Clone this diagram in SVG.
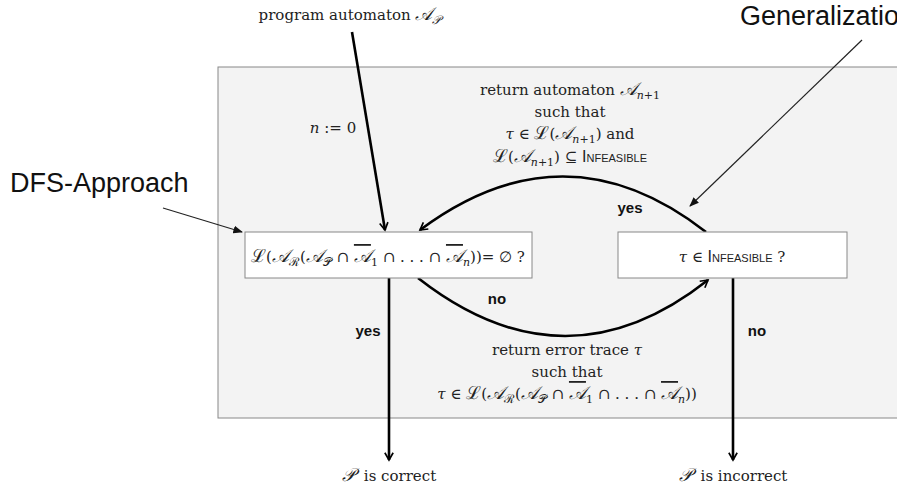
<svg xmlns="http://www.w3.org/2000/svg" width="897" height="484" viewBox="0 0 897 484">
<style>
.m{font-family:"DejaVu Serif","Liberation Serif",serif;font-size:15px;fill:#222}
.s{font-family:"Liberation Sans","DejaVu Sans",sans-serif;fill:#111}
.b{font-family:"Liberation Sans","DejaVu Sans",sans-serif;font-weight:bold;font-size:15px;fill:#111}
.box{fill:#fff;stroke:#888;stroke-width:1}
.thick{fill:none;stroke:#000;stroke-width:2.6}
.thin{fill:none;stroke:#222;stroke-width:1.2}
.sc{font-family:"Liberation Sans","DejaVu Sans",sans-serif;font-variant:small-caps;font-size:16px}
.ov{text-decoration:overline}
.i{font-style:italic}
.c{font-size:18px}
</style>
<defs>
<marker id="ah" viewBox="0 0 10 10" refX="8" refY="5" markerWidth="4" markerHeight="4" orient="auto" markerUnits="strokeWidth">
<path d="M1,1 L8,5 L1,9" fill="none" stroke="#000" stroke-width="1.6"/>
</marker>
<marker id="at" viewBox="0 0 10 10" refX="9" refY="5" markerWidth="8" markerHeight="8" orient="auto" markerUnits="strokeWidth">
<path d="M0,1 L10,5 L0,9 Z" fill="#111"/>
</marker>
</defs>
<rect x="218" y="67" width="690" height="351" fill="#f3f3f3" stroke="#888" stroke-width="1"/>
<g id="connectors">
<path class="thick" d="M352,32 L385,230" marker-end="url(#ah)"/>
<path class="thick" d="M706,232 Q565,122 420,230" marker-end="url(#ah)"/>
<path class="thick" d="M418,278 Q565,393 708,280" marker-end="url(#ah)"/>
<path class="thick" d="M389,278 L389,460" marker-end="url(#ah)"/>
<path class="thick" d="M733,278 L733,460" marker-end="url(#ah)"/>
<path class="thin" d="M163,208 L242,232" marker-end="url(#at)"/>
<path class="thin" d="M862,40 L690,206" marker-end="url(#at)"/>
<text class="b" x="630" y="213" text-anchor="middle">yes</text>
<text class="b" x="497" y="304" text-anchor="middle">no</text>
<text class="b" x="368" y="336" text-anchor="middle">yes</text>
<text class="b" x="757" y="336" text-anchor="middle">no</text>
<text class="m" x="333" y="133" text-anchor="middle"><tspan class="i">n</tspan> := 0</text>
</g>
<g id="program">
<text class="m" x="350" y="20" text-anchor="middle">program automaton <tspan class="i c">𝒜</tspan><tspan class="i" font-size="12" dy="4">𝒫</tspan></text>
</g>
<g id="dfs">
<text class="s" x="10" y="192" font-size="27">DFS-Approach</text>
</g>
<g id="generalization">
<text class="s" x="740" y="25" font-size="27">Generalization</text>
</g>
<g id="emptiness">
<rect class="box" x="245" y="232" width="287" height="46"/>
<text class="m" x="388" y="262" text-anchor="middle"><tspan class="c">ℒ</tspan>(<tspan class="i c">𝒜</tspan><tspan font-size="12" dy="4">ℛ</tspan><tspan dy="-4" dx="1">(</tspan><tspan class="i c">𝒜</tspan><tspan font-size="12" dy="4">𝒫</tspan><tspan dy="-4"> ∩ </tspan><tspan class="ov i c">𝒜</tspan><tspan font-size="11" dy="4">1</tspan><tspan dy="-4"> ∩ . . . ∩ </tspan><tspan class="ov i c">𝒜</tspan><tspan class="i" font-size="11" dy="4">n</tspan><tspan dy="-4">))= ∅ ?</tspan></text>
</g>
<g id="infeasible">
<rect class="box" x="618" y="232" width="229" height="46"/>
<text class="m" x="732" y="262" text-anchor="middle"><tspan class="i">τ</tspan> ∈ <tspan class="sc">Infeasible</tspan> ?</text>
</g>
<g id="returnAutomaton">
<text class="m" x="570" y="95" text-anchor="middle">return automaton <tspan class="i c">𝒜</tspan><tspan font-size="11" dy="4"><tspan class="i">n</tspan>+1</tspan></text>
<text class="m" x="570" y="117" text-anchor="middle">such that</text>
<text class="m" x="570" y="139" text-anchor="middle"><tspan class="i">τ</tspan> ∈ <tspan class="c">ℒ</tspan>(<tspan class="i c">𝒜</tspan><tspan font-size="11" dy="4"><tspan class="i">n</tspan>+1</tspan><tspan dy="-4">) and</tspan></text>
<text class="m" x="570" y="162" text-anchor="middle"><tspan class="c">ℒ</tspan>(<tspan class="i c">𝒜</tspan><tspan font-size="11" dy="4"><tspan class="i">n</tspan>+1</tspan><tspan dy="-4">) ⊆ </tspan><tspan class="sc">Infeasible</tspan></text>
</g>
<g id="returnTrace">
<text class="m" x="567" y="355" text-anchor="middle">return error trace <tspan class="i">τ</tspan></text>
<text class="m" x="567" y="377" text-anchor="middle">such that</text>
<text class="m" x="567" y="399" text-anchor="middle"><tspan class="i">τ</tspan> ∈ <tspan class="c">ℒ</tspan>(<tspan class="i c">𝒜</tspan><tspan font-size="12" dy="4">ℛ</tspan><tspan dy="-4" dx="1">(</tspan><tspan class="i c">𝒜</tspan><tspan font-size="12" dy="4">𝒫</tspan><tspan dy="-4"> ∩ </tspan><tspan class="ov i c">𝒜</tspan><tspan font-size="11" dy="4">1</tspan><tspan dy="-4"> ∩ . . . ∩ </tspan><tspan class="ov i c">𝒜</tspan><tspan class="i" font-size="11" dy="4">n</tspan><tspan dy="-4">))</tspan></text>
</g>
<g id="correct">
<text class="m" x="389" y="481" text-anchor="middle"><tspan class="i c">𝒫</tspan><tspan dx="9">is correct</tspan></text>
</g>
<g id="incorrect">
<text class="m" x="733" y="481" text-anchor="middle"><tspan class="i c">𝒫</tspan><tspan dx="9">is incorrect</tspan></text>
</g>
</svg>
